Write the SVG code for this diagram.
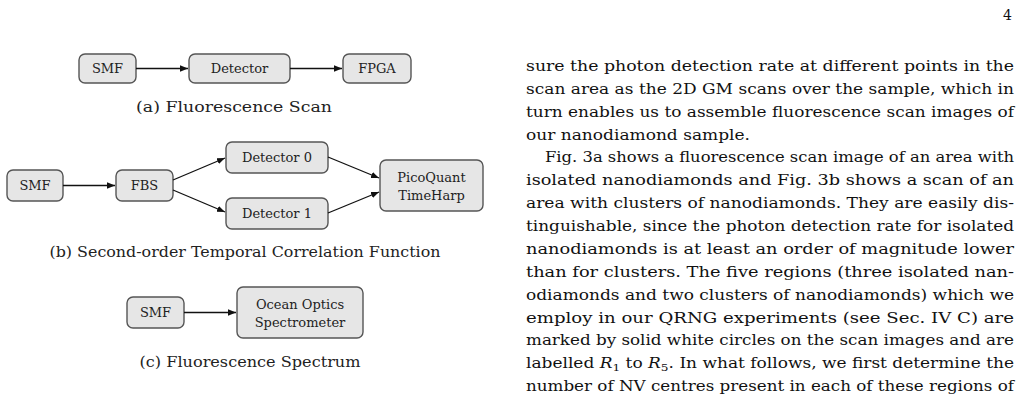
<svg xmlns="http://www.w3.org/2000/svg" width="1024" height="403" viewBox="0 0 1024 403">
<style>
.n{fill:#e6e6e6;stroke:#555;stroke-width:1.4}
.t{font-family:"DejaVu Serif","Liberation Serif",serif;font-size:13px;fill:#222;text-anchor:middle}
.c{font-family:"DejaVu Serif","Liberation Serif",serif;font-size:15px;fill:#222;text-anchor:middle}
.p{font-family:"DejaVu Serif","Liberation Serif",serif;font-size:14px;fill:#111}
.e{stroke:#111;stroke-width:1.3;fill:none;marker-end:url(#a)}
</style>
<defs><marker id="a" viewBox="0 0 10 10" refX="10" refY="5" markerWidth="8" markerHeight="8" markerUnits="userSpaceOnUse" orient="auto"><path d="M0,1 L10,5 L0,9 Z" fill="#111"/></marker></defs>
<rect width="1024" height="403" fill="#fff"/>
<g id="a-smf"><rect class="n" x="79" y="54" width="57" height="29" rx="6"/><text class="t" x="107.5" y="73">SMF</text></g>
<g id="a-det"><rect class="n" x="189" y="54" width="101" height="29" rx="6"/><text class="t" x="239.5" y="73">Detector</text></g>
<g id="a-fpga"><rect class="n" x="343" y="54" width="68" height="29" rx="6"/><text class="t" x="377" y="73">FPGA</text></g>
<g id="b-smf"><rect class="n" x="7" y="170" width="56" height="31" rx="6"/><text class="t" x="35" y="190">SMF</text></g>
<g id="b-fbs"><rect class="n" x="116" y="170" width="57" height="31" rx="6"/><text class="t" x="144.5" y="190">FBS</text></g>
<g id="b-d0"><rect class="n" x="226" y="142" width="102" height="31" rx="6"/><text class="t" x="277" y="162">Detector 0</text></g>
<g id="b-d1"><rect class="n" x="226" y="198" width="102" height="31" rx="6"/><text class="t" x="277" y="218">Detector 1</text></g>
<g id="b-pq"><rect class="n" x="380" y="160" width="103" height="51" rx="6"/><text class="t" x="431.5" y="182">PicoQuant</text><text class="t" x="431.5" y="200">TimeHarp</text></g>
<g id="c-smf"><rect class="n" x="127" y="297" width="57" height="31" rx="6"/><text class="t" x="155.5" y="317">SMF</text></g>
<g id="c-oo"><rect class="n" x="237" y="287" width="126" height="51" rx="6"/><text class="t" x="300" y="309">Ocean Optics</text><text class="t" x="300" y="327">Spectrometer</text></g>
<g id="edges">
<path class="e" d="M136,68.5 H188"/>
<path class="e" d="M290,68.5 H342"/>
<path class="e" d="M63,185.5 H115"/>
<path class="e" d="M173,180 L225,158"/>
<path class="e" d="M173,190 L225,212"/>
<path class="e" d="M328,157 L379,178"/>
<path class="e" d="M328,213 L379,192"/>
<path class="e" d="M184,312.5 H236"/>
</g>
<text class="c" x="234" y="112" textLength="196" lengthAdjust="spacingAndGlyphs">(a) Fluorescence Scan</text>
<text class="c" x="245" y="257" textLength="391" lengthAdjust="spacingAndGlyphs">(b) Second-order Temporal Correlation Function</text>
<text class="c" x="250" y="367" textLength="221" lengthAdjust="spacingAndGlyphs">(c) Fluorescence Spectrum</text>
<text class="p" x="1012" y="20" text-anchor="end">4</text>
<g class="p">
<text x="526" y="71" textLength="488" lengthAdjust="spacingAndGlyphs">sure the photon detection rate at different points in the</text>
<text x="526" y="94" textLength="488" lengthAdjust="spacingAndGlyphs">scan area as the 2D GM scans over the sample, which in</text>
<text x="526" y="117" textLength="488" lengthAdjust="spacingAndGlyphs">turn enables us to assemble fluorescence scan images of</text>
<text x="526" y="140" textLength="224" lengthAdjust="spacingAndGlyphs">our nanodiamond sample.</text>
<text x="545" y="162" textLength="469" lengthAdjust="spacingAndGlyphs">Fig. 3a shows a fluorescence scan image of an area with</text>
<text x="526" y="185" textLength="488" lengthAdjust="spacingAndGlyphs">isolated nanodiamonds and Fig. 3b shows a scan of an</text>
<text x="526" y="208" textLength="488" lengthAdjust="spacingAndGlyphs">area with clusters of nanodiamonds. They are easily dis-</text>
<text x="526" y="231" textLength="488" lengthAdjust="spacingAndGlyphs">tinguishable, since the photon detection rate for isolated</text>
<text x="526" y="254" textLength="488" lengthAdjust="spacingAndGlyphs">nanodiamonds is at least an order of magnitude lower</text>
<text x="526" y="277" textLength="488" lengthAdjust="spacingAndGlyphs">than for clusters. The five regions (three isolated nan-</text>
<text x="526" y="300" textLength="488" lengthAdjust="spacingAndGlyphs">odiamonds and two clusters of nanodiamonds) which we</text>
<text x="526" y="323" textLength="488" lengthAdjust="spacingAndGlyphs">employ in our QRNG experiments (see Sec. IV C) are</text>
<text x="526" y="345" textLength="488" lengthAdjust="spacingAndGlyphs">marked by solid white circles on the scan images and are</text>
<text x="526" y="368" textLength="488" lengthAdjust="spacingAndGlyphs">labelled <tspan font-style="italic">R</tspan><tspan font-size="10" dy="3">1</tspan><tspan dy="-3"> to </tspan><tspan font-style="italic">R</tspan><tspan font-size="10" dy="3">5</tspan><tspan dy="-3">. In what follows, we first determine the</tspan></text>
<text x="526" y="391" textLength="488" lengthAdjust="spacingAndGlyphs">number of NV centres present in each of these regions of</text>
</g>
</svg>
